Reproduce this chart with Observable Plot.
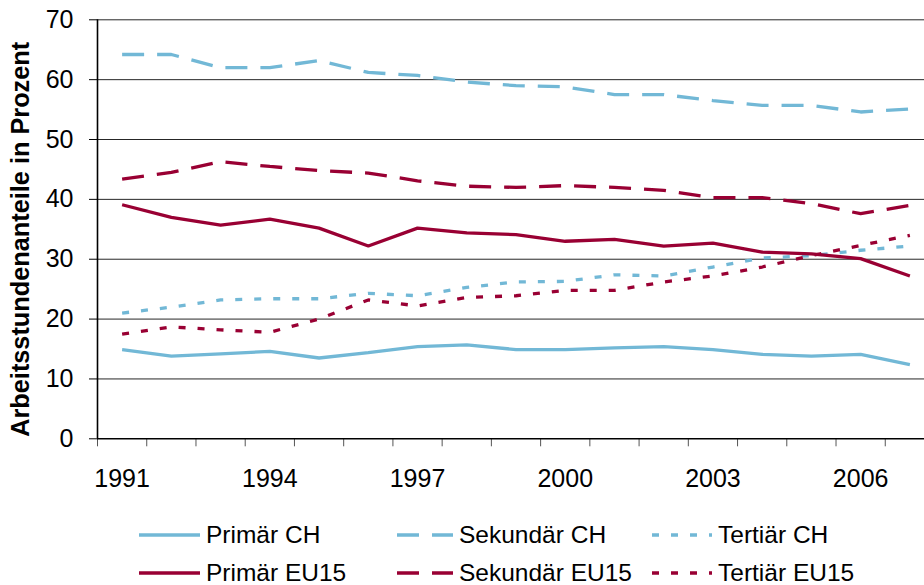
<!DOCTYPE html>
<html>
<head>
<meta charset="utf-8">
<script src="https://cdn.jsdelivr.net/npm/d3@7"></script>
<script src="https://cdn.jsdelivr.net/npm/@observablehq/plot@0.6"></script>
<style>
  html, body { margin: 0; padding: 0; background: #fff; overflow: hidden; }
  #wrap { position: relative; width: 924px; height: 585px; font-family: "Liberation Sans", Arial, sans-serif; }
  #legend { position: absolute; left: 0; top: 500px; width: 924px; height: 85px; }
  .item { position: absolute; height: 30px; display: flex; align-items: center; font-size: 24.5px; color: #000; white-space: nowrap; }
  .item svg { display: block; margin-right: 6px; }
</style>
</head>
<body>
<div id="wrap"><div id="chart"></div><div id="legend"></div></div>
<script>
const years = [1991,1992,1993,1994,1995,1996,1997,1998,1999,2000,2001,2002,2003,2004,2005,2006,2007];
const primaerCH    = [14.9,13.8,14.2,14.6,13.5,14.4,15.4,15.7,14.9,14.9,15.2,15.4,14.9,14.1,13.8,14.1,12.4];
const sekundaerCH  = [64.2,64.2,62.0,62.0,63.2,61.2,60.7,59.6,59.0,58.8,57.5,57.5,56.5,55.7,55.7,54.6,55.1];
const tertiaerCH   = [21.0,22.0,23.2,23.4,23.4,24.3,23.9,25.3,26.2,26.3,27.4,27.2,28.7,30.2,30.6,31.5,32.2];
const primaerEU15  = [39.1,37.0,35.7,36.7,35.2,32.2,35.2,34.4,34.1,33.0,33.3,32.2,32.7,31.2,30.9,30.1,27.2];
const sekundaerEU15= [43.4,44.5,46.3,45.5,44.8,44.4,43.1,42.2,42.0,42.3,42.0,41.5,40.3,40.3,39.3,37.6,39.0];
const tertiaerEU15 = [17.5,18.7,18.2,17.8,20.0,23.2,22.2,23.6,23.9,24.8,24.8,26.2,27.2,28.7,30.6,32.3,34.0];
const yTicks = [0,10,20,30,40,50,60,70];
const xTickLabels = [1991,1994,1997,2000,2003,2006];
const yTitle = "Arbeitsstundenanteile in Prozent";

const CH = "#72b8d6", EU = "#990033";
const seriesDefs = [
  {name: "Primär CH", values: primaerCH, color: CH, dash: null},
  {name: "Sekundär CH", values: sekundaerCH, color: CH, dash: "22,13"},
  {name: "Tertiär CH", values: tertiaerCH, color: CH, dash: "7,12"},
  {name: "Primär EU15", values: primaerEU15, color: EU, dash: null},
  {name: "Sekundär EU15", values: sekundaerEU15, color: EU, dash: "22,13"},
  {name: "Tertiär EU15", values: tertiaerEU15, color: EU, dash: "7,12"}
];
const rows = seriesDefs.flatMap(s => years.map((y, i) => ({year: y, value: s.values[i], series: s.name})));
const boundaries = years.map(y => y - 0.5).concat([years[years.length - 1] + 0.5]);
const xMin = years[0] - 0.5, xMax = years[years.length - 1] + 0.5;

const lineMarks = seriesDefs.map(s => Plot.line(rows.filter(r => r.series === s.name), {
  x: "year", y: "value", stroke: s.color, strokeWidth: 3.3,
  strokeDasharray: s.dash || undefined, strokeLinejoin: "miter", strokeLinecap: "butt"
}));

const chart = Plot.plot({
  width: 924,
  height: 500,
  marginTop: 19.3,
  marginBottom: 61.7,
  marginLeft: 97,
  marginRight: 0,
  style: {fontFamily: "Liberation Sans, Arial, sans-serif", fontSize: "25px", color: "#000", background: "#fff"},
  x: {domain: [xMin, xMax], range: [97, 934]},
  y: {domain: [0, 70], range: [438.3, 19.3]},
  marks: [
    Plot.ruleY(yTicks.filter(d => d > 0), {x1: xMin, x2: xMax, stroke: "#000", strokeWidth: 1, strokeOpacity: 0.85}),
    Plot.axisY({ticks: yTicks, tickSize: 8, tickPadding: 16, tickFormat: d => String(d), fontSize: 25, label: null, stroke: "#000"}),
    Plot.axisX({ticks: boundaries, tickSize: 8, tickFormat: () => "", label: null, stroke: "#555"}),
    Plot.axisX({ticks: xTickLabels, tickSize: 0, tickPadding: 30, tickFormat: d => String(d), fontSize: 25, label: null}),
    Plot.ruleX([xMin], {y1: 0, y2: 70, stroke: "#000", strokeWidth: 1.6}),
    Plot.ruleY([0], {x1: xMin, x2: xMax, stroke: "#000", strokeWidth: 1.6}),
    ...lineMarks,
    Plot.text([yTitle], {frameAnchor: "left", textAnchor: "middle", lineAnchor: "middle", rotate: -90, dx: -77, dy: 10, fontWeight: "bold", fontSize: 25.3, fill: "#000", text: d => d})
  ]
});
document.getElementById("chart").appendChild(chart);

// legend
const legendLayout = [
  {col: 0, row: 0}, {col: 1, row: 0}, {col: 2, row: 0},
  {col: 0, row: 1}, {col: 1, row: 1}, {col: 2, row: 1}
];
const colX = [139, 397, 652];
const sampleW = [61, 56, 60];
const rowY = [35, 73];
const legend = document.getElementById("legend");
seriesDefs.forEach((s, i) => {
  const pos = legendLayout[i];
  const div = document.createElement("div");
  div.className = "item";
  div.style.left = colX[pos.col] + "px";
  div.style.top = (rowY[pos.row] - 15) + "px";
  const w = sampleW[pos.col];
  div.innerHTML = `<svg width="${w}" height="10"><line x1="0" x2="${w}" y1="5" y2="5" stroke="${s.color}" stroke-width="3.3" ${s.dash ? `stroke-dasharray="${s.dash}"` : ""}/></svg><span>${s.name}</span>`;
  legend.appendChild(div);
});
</script>
</body>
</html>
